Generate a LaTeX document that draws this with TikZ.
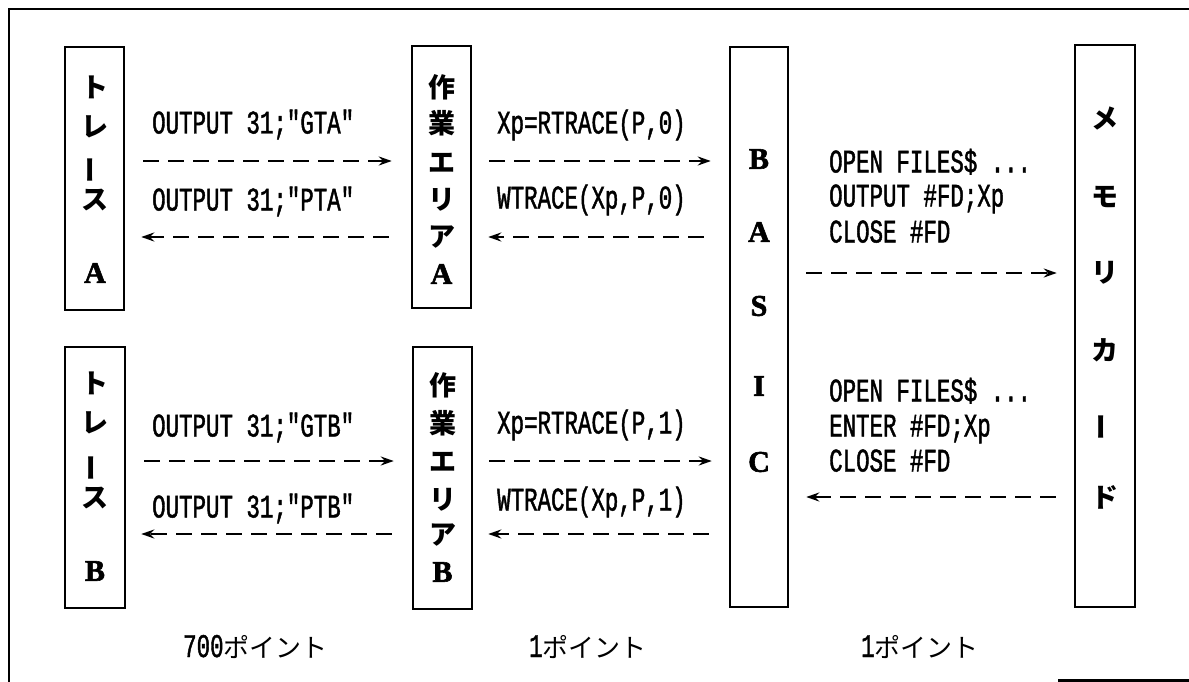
\documentclass[tikz,border=0pt]{standalone}
\usepackage{fontspec}
\usepackage{graphicx}
\usetikzlibrary{arrows.meta,calc}
\setmainfont{Liberation Serif}
\newfontfamily\jp{Noto Sans CJK JP}
\newfontfamily\serb{Liberation Serif}[FakeBold=2]
\newfontfamily\mono[FakeStretch=0.68,FakeBold=1.3]{Liberation Mono}
\newcommand\vbar{\rotatebox[origin=c]{90}{ー}}
\tikzset{
  box/.style={draw, line width=2.5pt, rectangle, inner sep=0pt},
  vlab/.style={font=\jp\bfseries\fontsize{27}{27}\selectfont, inner sep=0pt},
  vlat/.style={font=\serb\bfseries\fontsize{30}{30}\selectfont, inner sep=0pt},
  code/.style={font=\mono\fontsize{33}{35}\selectfont, inner sep=0pt, anchor=base west},
  pts/.style={font=\fontsize{26}{26}\selectfont, inner sep=0pt, anchor=base west},
  dar/.style={line width=2.3pt, dash pattern=on 16pt off 9pt, -{Stealth[length=13pt,width=9pt]}},
  frame/.style={line width=2.5pt}
}
\begin{document}
\begin{tikzpicture}[x=1pt,y=-1pt]
\useasboundingbox (0,0) rectangle (1189,682);
% frame
\draw[frame] (9,682) -- (9,9) -- (1189,9);
\draw[line width=2.5pt] (1058,680.5) -- (1189,680.5);
% boxes
\node[box, minimum width=59pt, minimum height=263pt] (tA) at (94.5,178.5) {};
\node[box, minimum width=60pt, minimum height=261pt] (tB) at (95,477.5) {};
\node[box, minimum width=59pt, minimum height=262pt] (wA) at (441.5,177) {};
\node[box, minimum width=59pt, minimum height=262pt] (wB) at (442.5,478) {};
\node[box, minimum width=58pt, minimum height=560pt] (basic) at (759,327) {};
\node[box, minimum width=60pt, minimum height=562pt] (mem) at (1105,326) {};
% box labels
\foreach \c/\y [count=\i] in {ト/87, レ/127, \vbar/170, ス/200}
  \node[vlab] (tAl\i) at (94.5,\y) {\c};
\node[vlat] (tAl5) at (95,273) {A};
\foreach \c/\y [count=\i] in {ト/383, レ/423, \vbar/468, ス/498}
  \node[vlab] (tBl\i) at (95,\y) {\c};
\node[vlat] (tBl5) at (95,571) {B};
\foreach \c/\y [count=\i] in {作/87, 業/123, エ/163, リ/200, ア/237}
  \node[vlab] (wAl\i) at (441.5,\y) {\c};
\node[vlat] (wAl6) at (441.5,274) {A};
\foreach \c/\y [count=\i] in {作/385, 業/423, エ/462, リ/500, ア/535}
  \node[vlab] (wBl\i) at (442.5,\y) {\c};
\node[vlat] (wBl6) at (442.5,572) {B};
\foreach \c/\y [count=\i] in {B/159, A/232, S/306, I/386, C/462}
  \node[vlat] (bl\i) at (759,\y) {\c};
\foreach \c/\y [count=\i] in {メ/118, モ/197, リ/273, カ/350, \vbar/427, ド/497}
  \node[vlab] (ml\i) at (1105,\y) {\c};
% row coordinates
\coordinate (yA1) at (0,161);
\coordinate (yA2) at (0,237);
\coordinate (yB1) at (0,461);
\coordinate (yB2) at (0,534);
\coordinate (yR1) at (0,273);
\coordinate (yR2) at (0,497);
% arrows
\draw[dar, shorten <=18pt, shorten >=19pt] (tA.east |- yA1) -- (wA.west |- yA1);
\draw[dar, shorten <=22pt, shorten >=16pt] (wA.west |- yA2) -- (tA.east |- yA2);
\draw[dar, shorten <=17pt, shorten >=18pt] (wA.east |- yA1) -- (basic.west |- yA1);
\draw[dar, shorten <=25pt, shorten >=16pt] (basic.west |- yA2) -- (wA.east |- yA2);
\draw[dar, shorten <=17pt, shorten >=17pt] (basic.east |- yR1) -- (mem.west |- yR1);
\draw[dar, shorten <=18pt, shorten >=17pt] (mem.west |- yR2) -- (basic.east |- yR2);
\draw[dar, shorten <=18pt, shorten >=18pt] (tB.east |- yB1) -- (wB.west |- yB1);
\draw[dar, shorten <=20pt, shorten >=15pt] (wB.west |- yB2) -- (tB.east |- yB2);
\draw[dar, shorten <=16pt, shorten >=17pt] (wB.east |- yB1) -- (basic.west |- yB1);
\draw[dar, shorten <=20pt, shorten >=15pt] (basic.west |- yB2) -- (wB.east |- yB2);
% arrow labels (baselines)
\node[code] (lA1) at (152,133.5) {OUTPUT 31;"GTA"};
\node[code] (lA2) at (152,210.5) {OUTPUT 31;"PTA"};
\node[code] (mA1) at (497,133.5) {Xp=RTRACE(P,0)};
\node[code] (mA2) at (497,208.5) {WTRACE(Xp,P,0)};
\node[code] (rA1) at (829,172.5) {OPEN FILES\$ ...};
\node[code] (rA2) at (829,206.5) {OUTPUT \#FD;Xp};
\node[code] (rA3) at (829,242.5) {CLOSE \#FD};
\node[code] (lB1) at (152,436.5) {OUTPUT 31;"GTB"};
\node[code] (lB2) at (152,517.5) {OUTPUT 31;"PTB"};
\node[code] (mB1) at (497,433.5) {Xp=RTRACE(P,1)};
\node[code] (mB2) at (497,510.5) {WTRACE(Xp,P,1)};
\node[code] (rB1) at (829,401.5) {OPEN FILES\$ ...};
\node[code] (rB2) at (829,436.5) {ENTER \#FD;Xp};
\node[code] (rB3) at (829,471.5) {CLOSE \#FD};
% bottom labels
\node[pts] (p1) at (183,657) {{\mono\fontsize{33}{33}\selectfont 700}{\jp ポイント}};
\node[pts] (p2) at (529,657) {{\mono\fontsize{33}{33}\selectfont 1}{\jp ポイント}};
\node[pts] (p3) at (861,657) {{\mono\fontsize{33}{33}\selectfont 1}{\jp ポイント}};
\end{tikzpicture}
\end{document}
